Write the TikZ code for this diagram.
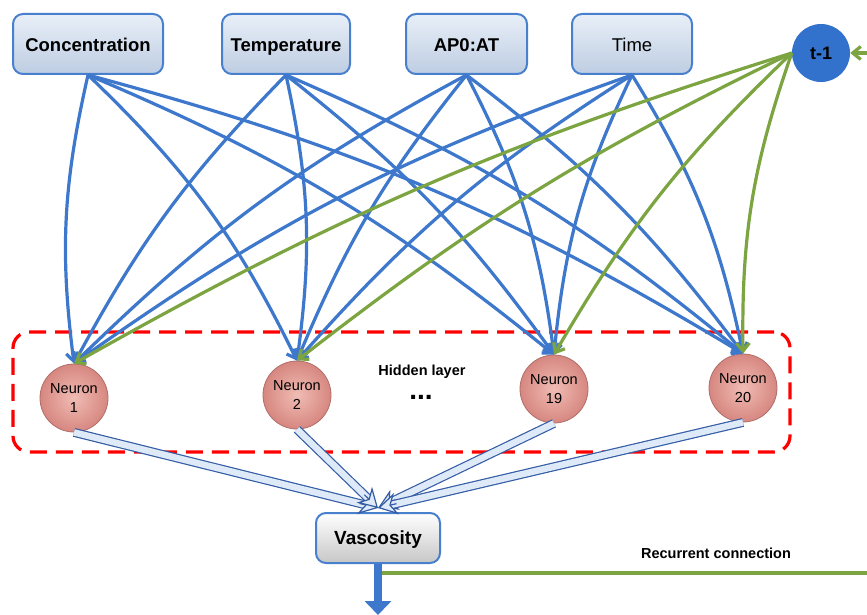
\documentclass[tikz,border=0pt]{standalone}
\usepackage{fontspec}
\setmainfont{Liberation Sans}
\usetikzlibrary{arrows.meta,calc}
\definecolor{lblue}{RGB}{62,120,204}
\definecolor{lgreen}{RGB}{124,164,64}
\definecolor{boxline}{RGB}{72,128,206}
\definecolor{boxtop}{RGB}{232,239,248}
\definecolor{boxbot}{RGB}{190,205,226}
\definecolor{nin}{RGB}{240,188,180}
\definecolor{nout}{RGB}{214,135,128}
\definecolor{nline}{RGB}{175,110,105}
\definecolor{tfill}{RGB}{50,114,204}
\definecolor{harrow}{RGB}{52,92,165}
\definecolor{hfill}{RGB}{222,234,248}
\begin{document}
\begin{tikzpicture}[x=1pt,y=1pt,
  inbox/.style={draw=boxline, line width=2pt, rounded corners=10pt,
    top color=boxtop, bottom color=boxbot, minimum height=60pt,
    text height=17pt, text depth=1pt,
    font=\fontsize{18.5}{20}\selectfont\bfseries},
  neuron/.style={circle, draw=nline, line width=0.8pt, inner color=nin, outer color=nout,
    minimum size=68pt, inner sep=0pt, align=center,
    font=\fontsize{14.5}{18.5}\selectfont},
  link/.style={draw=lblue, line width=3.2pt, -{Straight Barb[length=8pt,width=13pt]}},
  glink/.style={draw=lgreen, line width=3.2pt, -{Straight Barb[length=8pt,width=13pt]}},
  hshaft/.style={draw=harrow, line width=1.2pt, double=hfill, double distance=6.5pt},
  htip/.style={draw=harrow, line width=1.2pt,
    -{Stealth[length=19pt,width=22pt,inset=6pt,fill=hfill]}},
  lab/.style={font=\fontsize{14.5}{17}\selectfont\bfseries}
]
\useasboundingbox (0,0) rectangle (867,-615);
\clip (0,0) rectangle (867,-615);
\fill[white] (0,0) rectangle (867,-615);

% hidden layer box
\node[draw=red, line width=3.2pt, dash pattern=on 17pt off 9pt, rounded corners=16pt,
  minimum width=777pt, minimum height=120pt] (hbox) at (401.5,-392) {};

% inputs
\node[inbox, minimum width=150pt] (conc) at (88,-44) {Concentration};
\node[inbox, minimum width=128pt] (temp) at (286,-44) {Temperature};
\node[inbox, minimum width=121pt] (ap) at (466.5,-44) {AP0:AT};
\node[inbox, minimum width=120pt, font=\fontsize{18.5}{20}\selectfont] (time) at (632,-44) {Time};
\node[circle, fill=tfill, minimum size=58pt, inner sep=0pt,
  font=\fontsize{18}{20}\selectfont\bfseries] (t1) at (821,-53) {t-1};

% neurons
\node[neuron] (n1) at (74,-398) {Neuron\\1};
\node[neuron] (n2) at (297,-395) {Neuron\\2};
\node[neuron] (n19) at (554,-389) {Neuron\\19};
\node[neuron] (n20) at (743,-388) {Neuron\\20};

\node[lab] (hl) at (422,-372) {Hidden layer};
\node[font=\fontsize{28}{30}\selectfont\bfseries, inner sep=0pt, text height=4pt,
  text depth=0pt] (dots) at (421,-397.5) {...};

% output
\node[draw=boxline, line width=2pt, rounded corners=10pt, top color=white,
  bottom color=black!22, minimum width=124pt, minimum height=50pt,
  text height=14pt, text depth=1pt,
  font=\fontsize{19}{21}\selectfont\bfseries] (vasc) at (378,-538) {Vascosity};
\node[lab] (rc) at (716,-553) {Recurrent connection};

% blue connections
\draw[link] (conc.south) to[bend right=10] (n1.north);
\draw[link] (conc.south) to[bend left=10] (n2.north);
\draw[link] (conc.south) to[bend left=8] (n19.north);
\draw[link] (conc.south) to[bend left=8] (n20.north);
\draw[link] (temp.south) to[bend right=8] (n1.north);
\draw[link] (temp.south) to[bend left=10] (n2.north);
\draw[link] (temp.south) to[bend left=8] (n19.north);
\draw[link] (temp.south) to[bend left=8] (n20.north);
\draw[link] (ap.south) to[bend right=8] (n1.north);
\draw[link] (ap.south) to[bend right=8] (n2.north);
\draw[link] (ap.south) to[bend left=10] (n19.north);
\draw[link] (ap.south) to[bend left=8] (n20.north);
\draw[link] (time.south) to[bend right=8] (n1.north);
\draw[link] (time.south) to[bend right=8] (n2.north);
\draw[link] (time.south) to[bend right=10] (n19.north);
\draw[link] (time.south) to[bend left=10] (n20.north);

% green recurrent inputs
\draw[glink] (t1.west) to[bend right=6] (n1.north);
\draw[glink] (t1.west) to[bend right=6] (n2.north);
\draw[glink] (t1.west) to[bend right=8] (n19.north);
\draw[glink] (t1.west) to[bend right=10] (n20.north);

% hollow arrows to output
\coordinate (vt) at (378,-508);
\foreach \n in {n1,n2,n19,n20}{
  \draw[hshaft] (\n.south) -- ($(vt)!9pt!(\n.south)$);
  \draw[htip] ($(vt)!19pt!(\n.south)$) -- (vt);
}

% output arrow and recurrent loop
\coordinate (outp) at (378,-615);
\draw[lblue, line width=8pt, -{Triangle[length=14pt,width=26pt]}] (vasc.south) -- (outp);
\coordinate (rj) at (382,-573);
\coordinate (rc1) at (900,-573);
\coordinate (rc2) at (900,-53);
\draw[glink] (rj) -- (rc1) -- (rc2) -- (t1.east);
\end{tikzpicture}
\end{document}
